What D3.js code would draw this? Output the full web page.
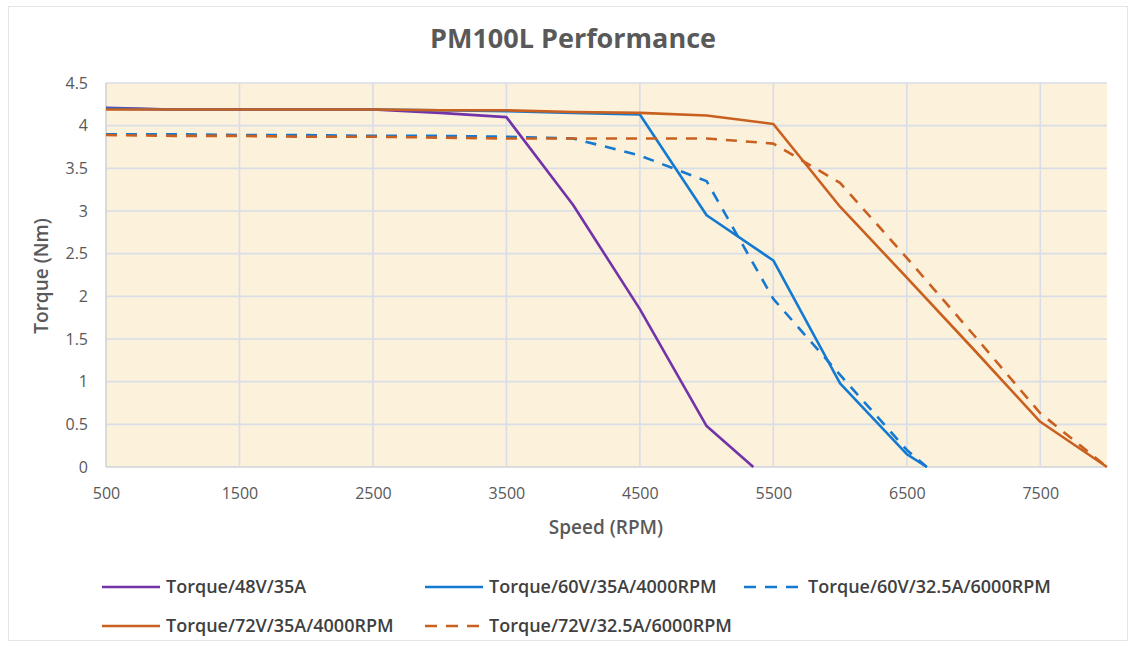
<!DOCTYPE html>
<html><head><meta charset="utf-8">
<script src="https://cdn.jsdelivr.net/npm/d3@7"></script>
<style>
html,body{margin:0;padding:0;background:#fff;}
svg text{font-family:"Open Sans","Noto Sans",sans-serif;}
</style></head>
<body>
<svg id="chart" width="1135" height="647"></svg>
<script>
// ---- data ----
const xTicks = [500,1500,2500,3500,4500,5500,6500,7500];
const yTicks = [0,0.5,1,1.5,2,2.5,3,3.5,4,4.5];

const s48_x = [500,1000,1500,2000,2500,3000,3500,4000,4500,5000,5350];
const s48_y = [4.21,4.19,4.19,4.19,4.19,4.15,4.10,3.07,1.85,0.48,0];

const s60a_x = [500,1000,1500,2000,2500,3000,3500,4000,4500,5000,5500,6000,6500,6650];
const s60a_y = [4.20,4.19,4.19,4.19,4.19,4.18,4.17,4.15,4.13,2.95,2.42,0.98,0.15,0];

const s60b_x = [500,1000,1500,2000,2500,3000,3500,4000,4500,5000,5500,6000,6500,6650];
const s60b_y = [3.90,3.90,3.89,3.89,3.88,3.88,3.87,3.85,3.65,3.35,1.97,1.08,0.20,0];

const s72a_x = [500,1000,1500,2000,2500,3000,3500,4000,4500,5000,5500,6000,6500,7000,7500,8000];
const s72a_y = [4.19,4.19,4.19,4.19,4.19,4.18,4.18,4.16,4.15,4.12,4.02,3.05,2.22,1.38,0.53,0];

const s72b_x = [500,1000,1500,2000,2500,3000,3500,4000,4500,5000,5500,6000,6500,7000,7500,8000];
const s72b_y = [3.89,3.88,3.88,3.87,3.87,3.86,3.85,3.85,3.85,3.85,3.79,3.33,2.45,1.55,0.63,0];

const seriesNames = ["Torque/48V/35A","Torque/60V/35A/4000RPM","Torque/60V/32.5A/6000RPM",
                     "Torque/72V/35A/4000RPM","Torque/72V/32.5A/6000RPM"];

// ---- build ----
const series = [
  {name:seriesNames[0], xs:s48_x,  ys:s48_y,  color:"#7232a8", dash:null},
  {name:seriesNames[1], xs:s60a_x, ys:s60a_y, color:"#1479d0", dash:null},
  {name:seriesNames[2], xs:s60b_x, ys:s60b_y, color:"#1479d0", dash:"11,9"},
  {name:seriesNames[3], xs:s72a_x, ys:s72a_y, color:"#c9601f", dash:null},
  {name:seriesNames[4], xs:s72b_x, ys:s72b_y, color:"#c9601f", dash:"11,9"}
];

const svg = d3.select("#chart");
const W = 1135, H = 647;
const P = {l:106, r:1107, t:83, b:467};

// outer border
svg.append("rect").attr("x",8.5).attr("y",6.5).attr("width",W-16).attr("height",H-13)
  .attr("fill","#fff").attr("stroke","#e3e6e6").attr("stroke-width",1);

const x = d3.scaleLinear().domain([500,8000]).range([P.l,P.r]);
const y = d3.scaleLinear().domain([0,4.5]).range([P.b,P.t]);

// plot background
svg.append("rect").attr("x",P.l).attr("y",P.t).attr("width",P.r-P.l).attr("height",P.b-P.t)
  .attr("fill","#fcf1db");

// gridlines
const grid = svg.append("g");
grid.selectAll("line.h").data(yTicks).join("line")
  .attr("x1",P.l).attr("x2",P.r).attr("y1",d=>y(d)).attr("y2",d=>y(d))
  .attr("stroke",d=>d===0?"#cfd3d8":"#d9dde8").attr("stroke-width",1.6);
grid.selectAll("line.v").data(xTicks).join("line")
  .attr("y1",P.t).attr("y2",P.b).attr("x1",d=>x(d)).attr("x2",d=>x(d))
  .attr("stroke",(d,i)=>i===0?"#cfd3d8":"#d9dde8").attr("stroke-width",1.6);

// axes (labels only)
const xAxis = d3.axisBottom(x).tickValues(xTicks).tickSize(0).tickPadding(21).tickFormat(d3.format("d"));
const gx = svg.append("g").attr("transform",`translate(0,${P.b})`).call(xAxis);
gx.select(".domain").remove();
gx.selectAll("text").attr("fill","#595959").style("font-size","16px");

const yAxis = d3.axisLeft(y).tickValues(yTicks).tickSize(0).tickPadding(18).tickFormat(d=>String(d));
const gy = svg.append("g").attr("transform",`translate(${P.l},0)`).call(yAxis);
gy.select(".domain").remove();
gy.selectAll("text").attr("fill","#595959").style("font-size","16px");

// lines
const line = d3.line().x(d=>x(d[0])).y(d=>y(d[1]));
series.forEach(s=>{
  const pts = s.xs.map((v,i)=>[v,s.ys[i]]);
  svg.append("path").datum(pts).attr("d",line)
    .attr("fill","none").attr("stroke",s.color).attr("stroke-width",2.6)
    .attr("stroke-linejoin","round")
    .attr("stroke-dasharray",s.dash);
});

// titles
svg.append("text").attr("x",573).attr("y",48).attr("text-anchor","middle")
  .attr("fill","#595959").style("font-size","27px").style("font-weight","700")
  .text("PM100L Performance");
svg.append("text").attr("x",606).attr("y",534).attr("text-anchor","middle")
  .attr("fill","#595959").style("font-size","19px").style("font-weight","600")
  .text("Speed (RPM)");
svg.append("text").attr("transform","translate(48,276) rotate(-90)").attr("text-anchor","middle")
  .attr("fill","#595959").style("font-size","19px").style("font-weight","600")
  .text("Torque (Nm)");

// legend
const legPos = [[102,587],[425,587],[744,587],[102,626],[425,626]];
series.forEach((s,i)=>{
  const [lx,ly] = legPos[i];
  const g = svg.append("g");
  g.append("line").attr("x1",lx).attr("x2",lx+(s.dash?54:58)).attr("y1",ly).attr("y2",ly)
    .attr("stroke",s.color).attr("stroke-width",2.6).attr("stroke-dasharray",s.dash?"12,9":null);
  g.append("text").attr("x",lx+64).attr("y",ly+6)
    .attr("fill","#404040").style("font-size","18px").style("font-weight","600")
    .text(s.name);
});
</script>
</body></html>
